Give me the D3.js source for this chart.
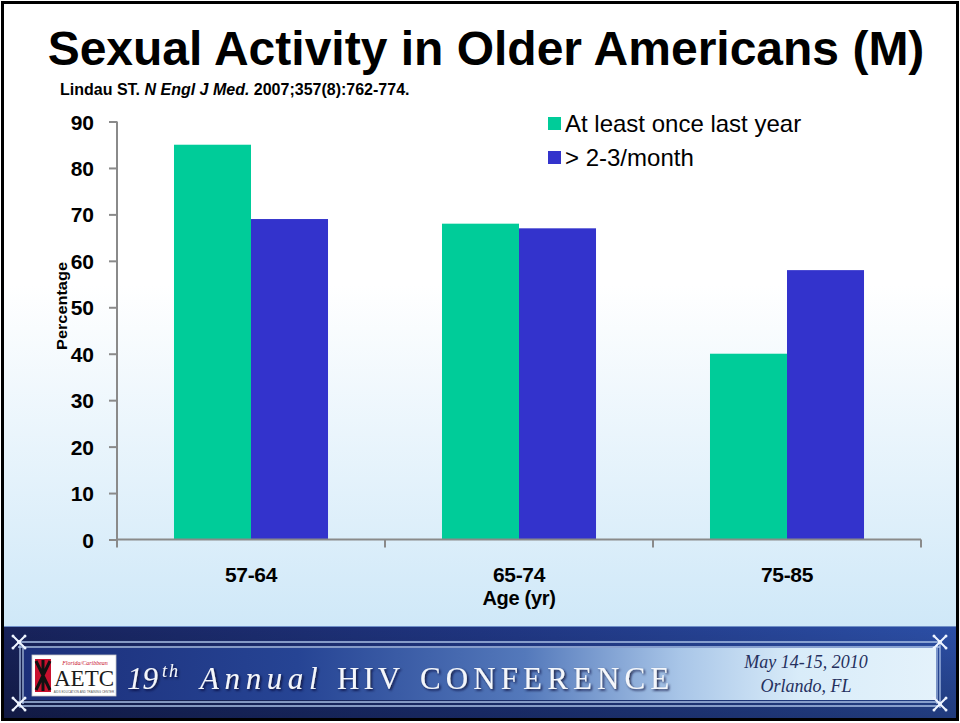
<!DOCTYPE html>
<html>
<head>
<meta charset="utf-8">
<script src="https://cdn.jsdelivr.net/npm/d3@7"></script>
<style>
  html, body { margin: 0; padding: 0; background: #ffffff; }
  svg { display: block; }
</style>
</head>
<body>
<svg id="chart" width="960" height="723"></svg>
<script>
// ---- data ----
const categories = ["57-64", "65-74", "75-85"];
const seriesNames = ["At least once last year", "> 2-3/month"];
const onceLastYear = [85, 68, 40];
const twoThreePerMonth = [69, 67, 58];
const yTicks = [0, 10, 20, 30, 40, 50, 60, 70, 80, 90];
const seriesColors = ["#00cc99", "#3333cc"];

const svg = d3.select("#chart");
const defs = svg.append("defs");

// ---- slide background ----
const bg = defs.append("linearGradient").attr("id", "bgGrad")
  .attr("x1", 0).attr("y1", 0).attr("x2", 0).attr("y2", 1);
bg.append("stop").attr("offset", "0%").attr("stop-color", "#ffffff");
bg.append("stop").attr("offset", "45%").attr("stop-color", "#ffffff");
bg.append("stop").attr("offset", "100%").attr("stop-color", "#cfe8f8");
svg.append("rect").attr("x", 0).attr("y", 0).attr("width", 960).attr("height", 723).attr("fill", "#ffffff");
svg.append("rect").attr("x", 4).attr("y", 4).attr("width", 952).attr("height", 624).attr("fill", "url(#bgGrad)");

// ---- title & citation ----
svg.append("text")
  .attr("x", 486).attr("y", 65)
  .attr("text-anchor", "middle")
  .attr("font-family", "Liberation Sans, Arial, sans-serif")
  .attr("font-weight", "bold").attr("font-size", 48)
  .attr("fill", "#000")
  .text("Sexual Activity in Older Americans (M)");

const cite = svg.append("text")
  .attr("x", 60).attr("y", 95)
  .attr("font-family", "Liberation Sans, Arial, sans-serif")
  .attr("font-weight", "bold").attr("font-size", 16)
  .attr("fill", "#000");
cite.append("tspan").text("Lindau ST. ");
cite.append("tspan").attr("font-style", "italic").text("N Engl J Med.");
cite.append("tspan").text(" 2007;357(8):762-774.");

// ---- scales ----
const x0 = d3.scaleBand().domain(categories).range([117, 921]).padding(0);
const x1 = d3.scaleBand().domain(seriesNames).range([0, x0.bandwidth()])
  .paddingInner(0).paddingOuter(0.74);
const y = d3.scaleLinear().domain([0, 90]).range([539.5, 121.5]);

const axisColor = "#8a8a8a";
const fontAx = "Liberation Sans, Arial, sans-serif";

// ---- bars ----
const rows = categories.map((c, i) => ({ cat: c, vals: [onceLastYear[i], twoThreePerMonth[i]] }));
const groups = svg.append("g").selectAll("g").data(rows).join("g")
  .attr("transform", d => `translate(${x0(d.cat)},0)`);
groups.selectAll("rect")
  .data(d => d.vals.map((v, j) => ({ name: seriesNames[j], v, j })))
  .join("rect")
  .attr("x", d => x1(d.name))
  .attr("y", d => y(d.v))
  .attr("width", x1.bandwidth())
  .attr("height", d => y(0) - y(d.v))
  .attr("fill", d => seriesColors[d.j]);

// ---- y axis ----
const yAxis = d3.axisLeft(y).tickValues(yTicks).tickSize(8).tickPadding(15).tickSizeOuter(0);
const gy = svg.append("g").attr("transform", "translate(117,0)").call(yAxis);
gy.select(".domain").remove();
gy.selectAll(".tick line").attr("stroke", axisColor).attr("stroke-width", 2);
gy.selectAll(".tick text")
  .attr("font-family", fontAx).attr("font-weight", "bold").attr("font-size", 21)
  .attr("fill", "#000").attr("dy", "0.36em");
svg.append("line")
  .attr("x1", 117).attr("x2", 117)
  .attr("y1", y(90)).attr("y2", y(0) + 8)
  .attr("stroke", axisColor).attr("stroke-width", 2);

// ---- x axis: baseline with boundary ticks ----
svg.append("line")
  .attr("x1", 117).attr("x2", 921)
  .attr("y1", y(0)).attr("y2", y(0))
  .attr("stroke", axisColor).attr("stroke-width", 2);
const bounds = categories.map(c => x0(c)).concat([x0(categories[categories.length - 1]) + x0.bandwidth()]);
svg.append("g").selectAll("line").data(bounds.slice(1)).join("line")
  .attr("x1", d => d).attr("x2", d => d)
  .attr("y1", y(0)).attr("y2", y(0) + 8)
  .attr("stroke", axisColor).attr("stroke-width", 2);
svg.append("g").selectAll("text").data(categories).join("text")
  .attr("x", d => x0(d) + x0.bandwidth() / 2)
  .attr("y", 582)
  .attr("text-anchor", "middle")
  .attr("font-family", fontAx).attr("font-weight", "bold").attr("font-size", 21)
  .attr("letter-spacing", -0.3)
  .attr("fill", "#000")
  .text(d => d);

// axis titles
svg.append("text")
  .attr("x", x0(categories[1]) + x0.bandwidth() / 2).attr("y", 605)
  .attr("text-anchor", "middle")
  .attr("font-family", fontAx).attr("font-weight", "bold").attr("font-size", 20)
  .attr("letter-spacing", -0.3)
  .attr("fill", "#000").text("Age (yr)");
svg.append("text")
  .attr("transform", "translate(67,306) rotate(-90)")
  .attr("text-anchor", "middle")
  .attr("font-family", fontAx).attr("font-weight", "bold").attr("font-size", 14)
  .attr("textLength", 88).attr("lengthAdjust", "spacingAndGlyphs")
  .attr("fill", "#000").text("Percentage");

// ---- legend ----
const legend = svg.append("g").attr("transform", "translate(548,117)");
seriesNames.forEach((name, i) => {
  const gy0 = i * 34;
  legend.append("rect").attr("x", 0).attr("y", gy0).attr("width", 13).attr("height", 13)
    .attr("fill", seriesColors[i]);
  legend.append("text").attr("x", 17).attr("y", gy0 + 15)
    .attr("font-family", fontAx).attr("font-size", 24)
    .attr("fill", "#000").text(name);
});

// ---- conference banner ----
const fb = defs.append("linearGradient").attr("id", "footBg")
  .attr("x1", 0).attr("y1", 0).attr("x2", 1).attr("y2", 0);
fb.append("stop").attr("offset", "0%").attr("stop-color", "#17225a");
fb.append("stop").attr("offset", "50%").attr("stop-color", "#1f3580");
fb.append("stop").attr("offset", "100%").attr("stop-color", "#2c4fa6");
const fbV = defs.append("linearGradient").attr("id", "footShade")
  .attr("x1", 0).attr("y1", 0).attr("x2", 0).attr("y2", 1);
fbV.append("stop").attr("offset", "0%").attr("stop-color", "#000").attr("stop-opacity", 0.0);
fbV.append("stop").attr("offset", "100%").attr("stop-color", "#000").attr("stop-opacity", 0.25);
const panel = defs.append("linearGradient").attr("id", "panelGrad")
  .attr("x1", 0).attr("y1", 0).attr("x2", 1).attr("y2", 0);
panel.append("stop").attr("offset", "0%").attr("stop-color", "#1c2f7a");
panel.append("stop").attr("offset", "30%").attr("stop-color", "#264494");
panel.append("stop").attr("offset", "55%").attr("stop-color", "#5479bb");
panel.append("stop").attr("offset", "72%").attr("stop-color", "#a9c6e8");
panel.append("stop").attr("offset", "85%").attr("stop-color", "#d9ecf9");
panel.append("stop").attr("offset", "100%").attr("stop-color", "#e4f2fb");

svg.append("rect").attr("x", 4).attr("y", 626).attr("width", 952).attr("height", 92).attr("fill", "url(#footBg)");
svg.append("rect").attr("x", 4).attr("y", 626).attr("width", 952).attr("height", 92).attr("fill", "url(#footShade)");
svg.append("line").attr("x1", 4).attr("x2", 956).attr("y1", 626.5).attr("y2", 626.5)
  .attr("stroke", "#6f8fc8").attr("stroke-width", 1);
svg.append("rect").attr("x", 24).attr("y", 648).attr("width", 912).attr("height", 52).attr("fill", "url(#panelGrad)");

// frame lines of the banner
const frameCol = "#aac0e6";
[[18, 642, 940, 642], [18, 647, 940, 647], [18, 702, 940, 702], [18, 706, 940, 706],
 [20, 640, 20, 708], [23, 645, 23, 704], [937, 645, 937, 704], [940, 640, 940, 708]]
  .forEach(([a, b, c, d]) => svg.append("line")
    .attr("x1", a).attr("y1", b).attr("x2", c).attr("y2", d)
    .attr("stroke", frameCol).attr("stroke-width", 1.3));

// corner ornaments
[[19, 642], [19, 704], [940, 642], [940, 704]].forEach(([cx, cy]) => {
  const g = svg.append("g").attr("transform", `translate(${cx},${cy})`)
    .attr("fill", "none").attr("stroke", "#eef4ff").attr("stroke-width", 2).attr("stroke-linecap", "round");
  g.append("path").attr("d", "M-5,-5 L5,5 M5,-5 L-5,5");
  g.append("circle").attr("r", 2).attr("fill", "#eef4ff").attr("stroke", "none");
  [[-6, -6], [6, -6], [-6, 6], [6, 6]].forEach(([px, py]) =>
    g.append("circle").attr("cx", px).attr("cy", py).attr("r", 1.5).attr("fill", "#eef4ff").attr("stroke", "none"));
});

// logo block
const logo = svg.append("g").attr("transform", "translate(32,655)");
logo.append("rect").attr("width", 84).attr("height", 41).attr("fill", "#ffffff")
  .attr("stroke", "#c9c9c9").attr("stroke-width", 0.8);
logo.append("rect").attr("x", 3).attr("y", 4).attr("width", 16).attr("height", 33).attr("fill", "#c8102e");
logo.append("path").attr("d", "M4,6 L18,35 M18,6 L4,35 M11,5 L11,36")
  .attr("stroke", "#111").attr("stroke-width", 3);
logo.append("text").attr("x", 53).attr("y", 10).attr("text-anchor", "middle")
  .attr("font-family", "Liberation Serif, serif").attr("font-style", "italic").attr("font-size", 6)
  .attr("fill", "#c8102e").text("Florida/Caribbean");
logo.append("text").attr("x", 52).attr("y", 31).attr("text-anchor", "middle")
  .attr("font-family", "Liberation Serif, serif").attr("font-size", 23)
  .attr("fill", "#1b1b1b").text("AETC");
logo.append("text").attr("x", 52).attr("y", 37.5).attr("text-anchor", "middle")
  .attr("font-family", "Liberation Sans, sans-serif").attr("font-size", 3)
  .attr("fill", "#555").text("AIDS EDUCATION AND TRAINING CENTER");

// banner title
const shadow = defs.append("filter").attr("id", "txtShadow").attr("x", "-5%").attr("y", "-20%").attr("width", "110%").attr("height", "140%");
shadow.append("feDropShadow").attr("dx", 1.5).attr("dy", 1.5).attr("stdDeviation", 1)
  .attr("flood-color", "#0a1030").attr("flood-opacity", 0.9);
const bannerText = svg.append("text")
  .attr("y", 689)
  .attr("font-family", "Liberation Serif, Times New Roman, serif")
  .attr("font-size", 31).attr("fill", "#f4f6fb")
  .attr("filter", "url(#txtShadow)");
bannerText.append("tspan").attr("x", 127).attr("font-style", "italic").attr("letter-spacing", 0).text("19");
bannerText.append("tspan").attr("font-style", "italic").attr("font-size", 18).attr("dy", -12).attr("dx", 4).attr("letter-spacing", 2).text("th");
bannerText.append("tspan").attr("x", 200).attr("dy", 12).attr("font-style", "italic").attr("letter-spacing", 5.6).text("Annual");
bannerText.append("tspan").attr("x", 337).attr("letter-spacing", 4).text("HIV");
bannerText.append("tspan").attr("x", 420).attr("letter-spacing", 5.1).text("CONFERENCE");

// dates
[["May 14-15, 2010", 668], ["Orlando, FL", 692]].forEach(([t, yy]) =>
  svg.append("text").attr("x", 806).attr("y", yy).attr("text-anchor", "middle")
    .attr("font-family", "Liberation Serif, Times New Roman, serif")
    .attr("font-style", "italic").attr("font-size", 18)
    .attr("fill", "#25305e").text(t));

// outer slide frame
svg.append("rect").attr("x", 2.5).attr("y", 2.5).attr("width", 955).attr("height", 717)
  .attr("fill", "none").attr("stroke", "#000").attr("stroke-width", 3);
</script>
</body>
</html>
